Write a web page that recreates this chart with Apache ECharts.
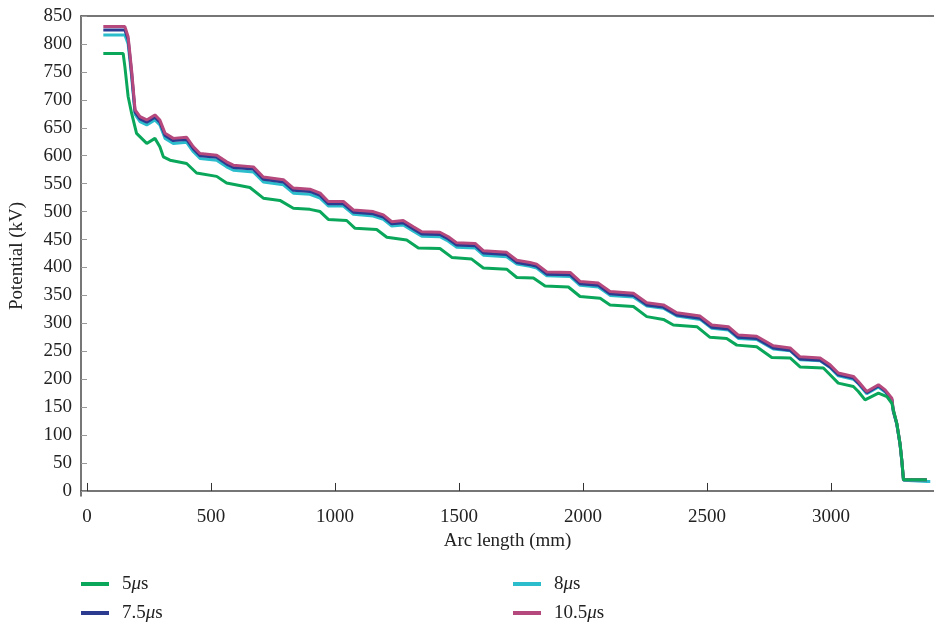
<!DOCTYPE html>
<html>
<head>
<meta charset="utf-8">
<script src="https://cdn.jsdelivr.net/npm/echarts@6/dist/echarts.min.js"></script>
<style>
html,body{margin:0;padding:0;background:#fff;}
#chart{width:934px;height:627px;}
</style>
</head>
<body>
<div id="chart"></div>
<script>
// Arc length (mm) sample positions shared by the 7.5, 8 and 10.5 µs curves
const arcTop = [66,153,166,180,194,214,241,274,294,315,348,402,429,456,523,563,590,671,711,792,832,899,940,973,1034,1074,1154,1195,1229,1275,1316,1350,1423,1457,1491,1565,1598,1692,1733,1786,1813,1854,1948,1988,2062,2109,2203,2257,2324,2378,2472,2519,2586,2626,2700,2767,2835,2875,2956,2996,3029,3090,3110,3144,3191,3218,3245,3251,3265,3278,3285,3292,3386];
// Potential (kV)
const pot10_5 = [831,831,813,753,682,670,664,673,664,640,631,633,616,604,601,589,583,580,562,557,542,540,533,518,518,503,500,494,482,484,473,464,463,455,444,443,430,427,413,409,406,392,391,375,372,357,354,337,333,319,313,297,294,279,277,260,256,240,238,226,211,205,196,178,190,181,166,145,121,85,56,20,20];
const pot7_5 = [825,825,808,748,678,666,660,669,660,636,627,629,612,600,597,585,579,576,558,553,538,536,529,514,514,499,496,490,478,480,469,460,459,451,440,439,426,423,409,405,402,388,387,371,368,353,350,333,329,315,309,293,290,275,273,256,252,236,234,222,208,202,193,176,188,179,164,143,120,84,55,20,20];
const pot8 = [816,816,800,742,674,661,655,664,655,631,622,624,607,595,592,580,574,571,553,548,533,531,524,510,510,495,492,486,474,476,465,456,455,447,436,435,422,419,406,402,399,385,384,368,365,350,347,331,327,313,307,291,288,273,271,254,251,235,233,221,206,200,192,174,186,177,163,142,119,83,54,19,17];
const tail8Arc = [3400];
const tail8Pot = [17];
// 5 µs curve
const arc5 = [66,146,153,166,180,200,241,274,294,308,335,402,442,523,563,657,711,778,832,899,940,973,1047,1081,1168,1209,1289,1336,1423,1471,1551,1598,1692,1733,1800,1847,1941,1988,2069,2109,2203,2257,2324,2364,2459,2512,2579,2620,2700,2761,2835,2875,2969,2996,3029,3090,3110,3137,3191,3225,3245,3251,3265,3278,3285,3292,3386];
const pot5 = [783,783,759,706,676,640,622,631,616,598,592,586,569,563,551,543,524,520,506,504,500,486,484,470,468,454,449,435,434,418,415,399,397,382,381,367,365,348,345,333,330,312,307,297,294,275,273,261,258,239,238,222,220,208,193,187,178,163,175,169,157,145,121,85,56,20,20];

const xTicks = [0,500,1000,1500,2000,2500,3000];
const yTicks = [0,50,100,150,200,250,300,350,400,450,500,550,600,650,700,750,800,850];
const names = ['5μs','7.5μs','8μs','10.5μs'];

const pairs = (xs, ys) => xs.map((x, i) => [x, ys[i]]);
const FONT = 'Liberation Serif';
const colors = {'5μs':'#0aa75b','7.5μs':'#2c3a8f','8μs':'#2cbdcc','10.5μs':'#b5487c'};

const chart = echarts.init(document.getElementById('chart'), null, {renderer:'canvas'});
const axisLineStyle = {color:'#4a4a4a', width:1.5};
const legendCommon = {
  orient:'vertical', top:574, padding:0, itemGap:9,
  itemWidth:28, itemHeight:4, icon:'rect',
  formatter: n => n.replace('μ','{i|μ}'),
  textStyle:{fontFamily:FONT, fontSize:19, color:'#222', lineHeight:20, padding:[0,0,0,8],
    rich:{i:{fontFamily:FONT, fontSize:19, fontStyle:'italic', color:'#222'}}}
};
const mk = (name, data) => ({
  name, type:'line', data, showSymbol:false, symbol:'none',
  lineStyle:{width:3, color:colors[name]}, itemStyle:{color:colors[name]},
  animation:false
});

chart.setOption({
  animation:false,
  grid:{left:81, right:0, top:16, bottom:131, containLabel:false},
  legend:[
    Object.assign({left:81, data:['5μs','7.5μs']}, legendCommon),
    Object.assign({left:513, data:['8μs','10.5μs']}, legendCommon)
  ],
  xAxis:[{
    type:'value', min:-24, max:3415, position:'bottom',
    name:'Arc length (mm)', nameLocation:'middle', nameGap:34,
    nameTextStyle:{fontFamily:FONT, fontSize:19, color:'#222'},
    axisLine:{show:true, lineStyle:axisLineStyle},
    axisTick:{show:true, inside:true, length:8, customValues:xTicks, lineStyle:{color:'#333', width:1}},
    axisLabel:{customValues:xTicks, formatter:v => String(v), fontFamily:FONT, fontSize:19, color:'#222', margin:12},
    splitLine:{show:false}
  },{
    type:'value', min:-24, max:3415, position:'top',
    axisLine:{show:true, onZero:false, lineStyle:axisLineStyle},
    axisTick:{show:false}, axisLabel:{show:false}, splitLine:{show:false}
  }],
  yAxis:{
    type:'value', min:-9, max:850,
    name:'Potential (kV)', nameLocation:'middle', nameGap:54,
    nameTextStyle:{fontFamily:FONT, fontSize:19, color:'#222'},
    axisLine:{show:true, onZero:false, lineStyle:axisLineStyle},
    axisTick:{show:true, inside:true, length:6, customValues:yTicks, lineStyle:{color:'#999', width:1}},
    axisLabel:{customValues:yTicks, formatter:v => String(v), fontFamily:FONT, fontSize:19, color:'#222', margin:9},
    splitLine:{show:false}
  },
  series:[
    mk('8μs', pairs(arcTop, pot8).concat(pairs(tail8Arc, tail8Pot))),
    mk('7.5μs', pairs(arcTop, pot7_5)),
    mk('10.5μs', pairs(arcTop, pot10_5)),
    mk('5μs', pairs(arc5, pot5))
  ]
});
</script>
</body>
</html>
